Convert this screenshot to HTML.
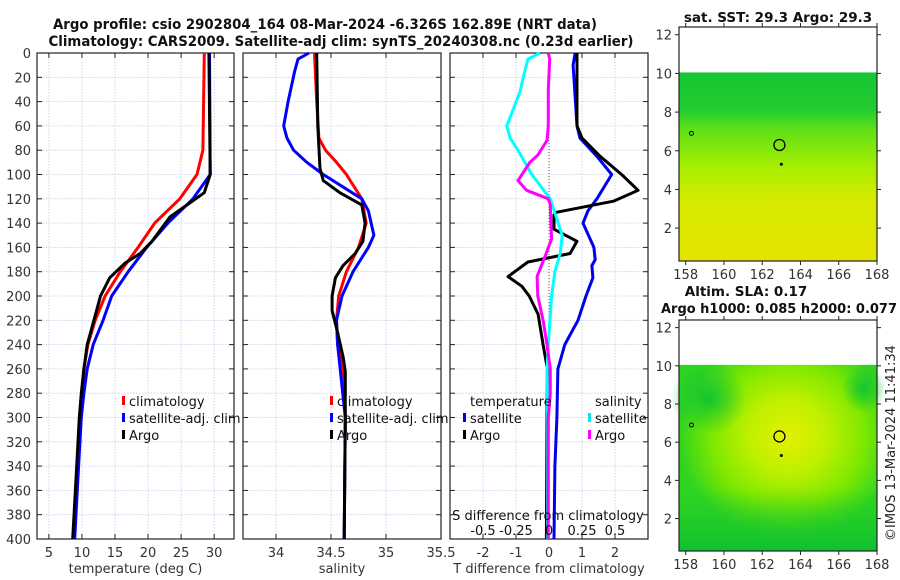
<!DOCTYPE html>
<html><head><meta charset="utf-8"><style>
html,body{margin:0;padding:0;background:#fff;}
svg{display:block;font-family:"DejaVu Sans","Liberation Sans",sans-serif;}
</style></head><body>
<svg id="fig" width="900" height="580" viewBox="0 0 900 580" xmlns="http://www.w3.org/2000/svg">
<defs>
<linearGradient id="sstGrad" x1="0" y1="0" x2="0" y2="1">
<stop offset="0" stop-color="#16c634"/>
<stop offset="0.2" stop-color="#22cc30"/>
<stop offset="0.3" stop-color="#5ee018"/>
<stop offset="0.5" stop-color="#a6ee00"/>
<stop offset="0.68" stop-color="#d6ea00"/>
<stop offset="1" stop-color="#e6e400"/>
</linearGradient>
<radialGradient id="slaGrad" cx="0.55" cy="0.38" r="0.55">
<stop offset="0" stop-color="#e4f000"/>
<stop offset="0.35" stop-color="#c0f000"/>
<stop offset="0.7" stop-color="#7ee800"/>
<stop offset="1" stop-color="#30d420"/>
</radialGradient>
<radialGradient id="slaDark" cx="0.5" cy="0.5" r="0.5">
<stop offset="0" stop-color="#14c430" stop-opacity="1"/>
<stop offset="1" stop-color="#14c430" stop-opacity="0"/>
</radialGradient>
<linearGradient id="slaBottom" x1="0" y1="0" x2="0" y2="1">
<stop offset="0" stop-color="#18c82c" stop-opacity="0"/>
<stop offset="1" stop-color="#10c030" stop-opacity="1"/>
</linearGradient>
</defs>
<g id="root"></g>
</svg>
<script>
// ---------- data ----------
const depthTicks = [0,20,40,60,80,100,120,140,160,180,200,220,240,260,280,300,320,340,360,380,400];
const tempTicks = [5,10,15,20,25,30];
const salTicks = [34,34.5,35,35.5];
const salTickLabels = ["34","34.5","35","35.5"];
const dTTicks = [-2,-1,0,1,2];
const dSTicks = [-0.5,-0.25,0,0.25,0.5];
const dSTickLabels = ["-0.5","-0.25","0","0.25","0.5"];

const tClimDepth = [0,80,100,120,140,160,180,200,220,240,260,280,300,340,400];
const tClimVal   = [28.5,28.3,27.4,24.8,21,18.5,15.8,13.5,12,10.9,10.3,10,9.7,9.3,8.7];
const tSatDepth  = [0,100,120,140,160,180,200,220,240,260,280,300,340,400];
const tSatVal    = [29.3,29.4,26.8,23,19.8,17,14.5,13.2,11.7,10.8,10.3,9.9,9.5,8.9];
const tArgoDepth = [0,100,115,125,135,155,165,173,185,200,220,240,260,280,300,340,400];
const tArgoVal   = [29.2,29.4,28.5,25.9,23.3,20.6,18.8,16.5,14.2,12.8,11.8,10.8,10.3,9.9,9.6,9.2,8.6];

const sClimDepth = [0,40,70,80,90,100,120,140,160,180,200,220,240,260,300,400];
const sClimVal   = [34.35,34.37,34.39,34.45,34.55,34.64,34.78,34.82,34.75,34.64,34.57,34.55,34.56,34.61,34.63,34.62];
const sSatDepth  = [0,5,15,40,60,70,80,90,100,120,130,150,160,180,200,220,240,300,400];
const sSatVal    = [34.3,34.2,34.17,34.11,34.07,34.1,34.16,34.28,34.43,34.78,34.84,34.89,34.84,34.7,34.6,34.55,34.56,34.63,34.62];
const sArgoDepth = [0,60,95,105,115,125,140,155,165,175,185,200,212,230,250,262,300,400];
const sArgoVal   = [34.37,34.38,34.4,34.43,34.58,34.78,34.81,34.79,34.72,34.61,34.54,34.51,34.51,34.56,34.61,34.63,34.63,34.62];

const dTSatDepth  = [0,10,60,70,85,100,120,130,140,160,170,175,185,200,220,240,260,300,340,400];
const dTSatVal    = [0.79,0.73,0.85,0.94,1.45,1.9,1.45,1.18,1.03,1.36,1.4,1.3,1.33,1.12,0.88,0.48,0.27,0.24,0.18,0.15];
const dTArgoDepth = [0,60,70,85,100,113,122,131,133,145,155,165,172,184,192,200,215,240,260,300,400];
const dTArgoVal   = [0.85,0.85,1.0,1.55,2.2,2.7,1.95,0.24,0.15,0.15,0.85,0.64,-0.64,-1.24,-0.82,-0.6,-0.33,-0.18,-0.05,-0.06,-0.08];
const dSSatDepth  = [0,5,20,32,60,70,80,100,120,140,150,165,180,200,240,260,300,400];
const dSSatVal    = [-0.07,-0.16,-0.195,-0.22,-0.32,-0.295,-0.235,-0.13,0.01,0.07,0.1,0.085,0.045,0.02,-0.005,-0.015,-0.01,-0.01];
const dSArgoDepth = [0,5,30,60,72,84,90,105,113,120,125,142,153,166,184,200,220,240,260,280,300,400];
const dSArgoVal   = [-0.005,0.005,-0.005,-0.005,-0.015,-0.085,-0.145,-0.235,-0.17,-0.005,0.01,0.015,0.02,-0.025,-0.09,-0.085,-0.045,-0.015,0.01,0.01,-0.005,-0.005];

const lonTicks = [158,160,162,164,166,168];
const latTicks = [2,4,6,8,10,12];

// ---------- helpers ----------
const NS="http://www.w3.org/2000/svg";
const root=document.getElementById('root');
function mk(tag,attrs,parent){const e=document.createElementNS(NS,tag);for(const k in attrs)e.setAttribute(k,attrs[k]);(parent||root).appendChild(e);return e;}
function txt(s,attrs,parent){const e=mk('text',attrs,parent);e.textContent=s;return e;}

const TOP=53, BOT=539;
const yD = d => TOP + d*(BOT-TOP)/400;

function panel(name,x0,x1,xmin,xmax,ticks,labels,title){
  const g=mk('g',{});
  
  
  const sx=v=>x0+(v-xmin)*(x1-x0)/(xmax-xmin);
  depthTicks.forEach(d=>{ if(d>0&&d<400){const l=mk('line',{x1:x0,x2:x1,y1:yD(d),y2:yD(d),stroke:'#c4cce6','stroke-width':0.8,'stroke-dasharray':'1.5,1.5'},g);
    
    }});
  ticks.forEach(t=>{const X=sx(t); if(X>x0+1&&X<x1-1){const l=mk('line',{x1:X,x2:X,y1:TOP,y2:BOT,stroke:'#c4cce6','stroke-width':0.8,'stroke-dasharray':'1.5,1.5'},g);
    
    }});
  depthTicks.forEach(d=>{mk('line',{x1:x0,x2:x0+5,y1:yD(d),y2:yD(d),stroke:'#222'},g);mk('line',{x1:x1-5,x2:x1,y1:yD(d),y2:yD(d),stroke:'#222'},g);});
  ticks.forEach((t,i)=>{const X=sx(t);mk('line',{x1:X,x2:X,y1:BOT-5,y2:BOT,stroke:'#222'},g);mk('line',{x1:X,x2:X,y1:TOP,y2:TOP+5,stroke:'#222'},g);
    const tl=txt(labels[i],{x:X,y:557,'text-anchor':'middle','font-size':13,fill:'#333'},g);
    
    });
  const fr=mk('rect',{x:x0,y:TOP,width:x1-x0,height:BOT-TOP,fill:'none',stroke:'#222','stroke-width':1.2},g);
  
  
  const at=txt(title,{x:(x0+x1)/2,y:573,'text-anchor':'middle','font-size':13,fill:'#333'},g);
  
  
  return {g,sx};
}
function series(p,name,depths,vals,color,conv){
  const pts=depths.map((d,i)=>(p.sx(conv?conv(vals[i]):vals[i])).toFixed(1)+','+yD(d).toFixed(1));
  const pl=mk('polyline',{points:pts.join(' '),fill:'none',stroke:color,'stroke-width':3,'stroke-linejoin':'round'},p.g);
  
  
}
function legend(p,x,y,items){
  items.forEach((it,i)=>{
    const yy=y+i*17;
    if(it.color){const b=mk('rect',{x:x,y:yy-10,width:3,height:9,fill:it.color},p.g);
      
      }
    const t=txt(it.label,{x:x+7,y:yy,'font-size':13,fill:'#111'},p.g);
    
    
  });
}

const t1=txt('Argo profile: csio 2902804_164 08-Mar-2024 -6.326S 162.89E (NRT data)',{x:325,y:29,'text-anchor':'middle','font-size':14,'font-weight':'bold',fill:'#111',textLength:544,lengthAdjust:'spacingAndGlyphs'});


const t2=txt('Climatology: CARS2009. Satellite-adj clim: synTS_20240308.nc (0.23d earlier)',{x:341,y:46,'text-anchor':'middle','font-size':14,'font-weight':'bold',fill:'#111',textLength:585,lengthAdjust:'spacingAndGlyphs'});



depthTicks.forEach(d=>{const l=txt(String(d),{x:31,y:yD(d)+5,'text-anchor':'end','font-size':13,fill:'#333'});
  
  });

const p1=panel('temperature-panel',37,234,3.2,33,tempTicks,tempTicks.map(String),'temperature (deg C)');
series(p1,'temp-climatology-line',tClimDepth,tClimVal,'#ff0000');
series(p1,'temp-satellite-line',tSatDepth,tSatVal,'#0000ff');
series(p1,'temp-argo-line',tArgoDepth,tArgoVal,'#000000');
legend(p1,122,406,[{label:'climatology',color:'#ff0000'},{label:'satellite-adj. clim',color:'#0000ff'},{label:'Argo',color:'#000'}]);

const p2=panel('salinity-panel',243,441,33.7,35.5,salTicks,salTickLabels,'salinity');
series(p2,'sal-climatology-line',sClimDepth,sClimVal,'#ff0000');
series(p2,'sal-satellite-line',sSatDepth,sSatVal,'#0000ff');
series(p2,'sal-argo-line',sArgoDepth,sArgoVal,'#000000');
legend(p2,330,406,[{label:'climatology',color:'#ff0000'},{label:'satellite-adj. clim',color:'#0000ff'},{label:'Argo',color:'#000'}]);

const p3=panel('difference-panel',450,648,-3,3,dTTicks,dTTicks.map(String),'T difference from climatology');
const zl=mk('line',{x1:p3.sx(0),x2:p3.sx(0),y1:TOP,y2:BOT,stroke:'#555','stroke-width':1,'stroke-dasharray':'1,2'},p3.g);


const sconv=v=>v*4;
series(p3,'dT-satellite-line',dTSatDepth,dTSatVal,'#0000ee');
series(p3,'dT-argo-line',dTArgoDepth,dTArgoVal,'#000000');
series(p3,'dS-satellite-line',dSSatDepth,dSSatVal,'#00ffff',sconv);
series(p3,'dS-argo-line',dSArgoDepth,dSArgoVal,'#ff00ff',sconv);
legend(p3,463,406,[{label:'temperature'},{label:'satellite',color:'#0000ee'},{label:'Argo',color:'#000'}]);
legend(p3,588,406,[{label:'salinity'},{label:'satellite',color:'#00e8e8'},{label:'Argo',color:'#ff00ff'}]);
const sdt=txt('S difference from climatology',{x:548,y:520,'text-anchor':'middle','font-size':13,fill:'#111'},p3.g);


dSTicks.forEach((s,i)=>{const l=txt(dSTickLabels[i],{x:p3.sx(sconv(s)),y:535,'text-anchor':'middle','font-size':13,fill:'#111'},p3.g);
  
  });

// ---------- maps ----------
function map(name,top,bot,fillFn){
  const g=mk('g',{});
  
  
  const L=679,R=877;
  const sx=lon=>L+(lon-157.65)*(R-L)/(168-157.65);
  const sy=lat=>top+(12.4-lat)*(bot-top)/(12.4-0.3);
  fillFn(g,L,R,sy(10.05),bot,sx,sy);
  latTicks.forEach(la=>{mk('line',{x1:L-4,x2:L,y1:sy(la),y2:sy(la),stroke:'#222'},g);mk('line',{x1:R,x2:R+4,y1:sy(la),y2:sy(la),stroke:'#222'},g);
    const l=txt(String(la),{x:L-7,y:sy(la)+5,'text-anchor':'end','font-size':13,fill:'#333'},g);
    
    });
  lonTicks.forEach(lo=>{mk('line',{x1:sx(lo),x2:sx(lo),y1:bot,y2:bot+4,stroke:'#222'},g);mk('line',{x1:sx(lo),x2:sx(lo),y1:top-4,y2:top,stroke:'#222'},g);
    const l=txt(String(lo),{x:sx(lo),y:bot+18,'text-anchor':'middle','font-size':13,fill:'#333'},g);
    
    });
  const fr=mk('rect',{x:L,y:top,width:R-L,height:bot-top,fill:'none',stroke:'#222','stroke-width':1.2},g);
  
  
  const c=mk('circle',{cx:sx(162.9),cy:sy(6.3),r:5.5,fill:'none',stroke:'#000','stroke-width':1.3},g);
  
  
  mk('circle',{cx:sx(163),cy:sy(5.3),r:1.5,fill:'#000'},g);
  mk('circle',{cx:sx(158.3),cy:sy(6.9),r:2,fill:'none',stroke:'#000'},g);
  return g;
}
map('sst-map',27,261,(g,L,R,T,B)=>{
  const r=mk('rect',{x:L,y:T,width:R-L,height:B-T,fill:'url(#sstGrad)'},g);
  
  
});
const m1t=txt('sat. SST: 29.3 Argo: 29.3',{x:778,y:22,'text-anchor':'middle','font-size':13.5,'font-weight':'bold',fill:'#111'});



map('sla-map',320,551,(g,L,R,T,B,sx,sy)=>{
  const r=mk('rect',{x:L,y:T,width:R-L,height:B-T,fill:'url(#slaGrad)'},g);
  
  
  mk('ellipse',{cx:sx(159.2),cy:sy(8.3),rx:38,ry:36,fill:'url(#slaDark)'},g);
  mk('ellipse',{cx:sx(167.3),cy:sy(8.8),rx:22,ry:24,fill:'url(#slaDark)'},g);
  mk('rect',{x:L,y:sy(3.6),width:R-L,height:B-sy(3.6),fill:'url(#slaBottom)'},g);
});
const m2t=txt('Altim. SLA: 0.17',{x:746,y:296,'text-anchor':'middle','font-size':13.5,'font-weight':'bold',fill:'#111'});


const m2t2=txt('Argo h1000: 0.085 h2000: 0.077',{x:779,y:313,'text-anchor':'middle','font-size':13.5,'font-weight':'bold',fill:'#111',textLength:236,lengthAdjust:'spacingAndGlyphs'});



const cp=txt('©IMOS 13-Mar-2024 11:41:34',{x:0,y:0,'font-size':13,fill:'#222',transform:'translate(895,541) rotate(-90)'});


</script>
</body></html>
